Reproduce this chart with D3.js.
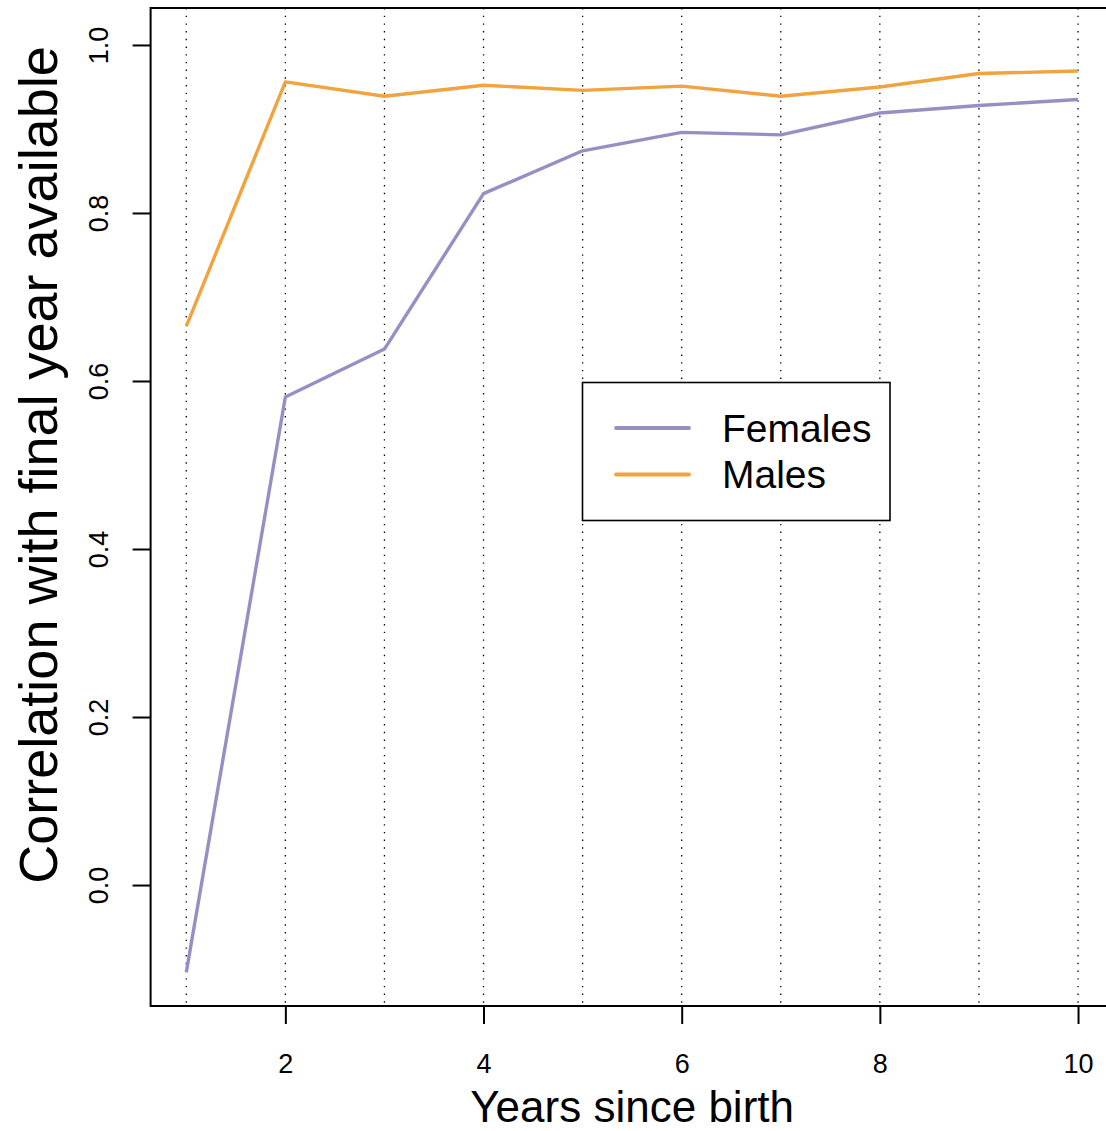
<!DOCTYPE html>
<html>
<head>
<meta charset="utf-8">
<script src="https://cdn.jsdelivr.net/npm/d3@7"></script>
<style>
  html, body { margin: 0; padding: 0; background: #fff; }
  svg { display: block; font-family: "Liberation Sans", Arial, Helvetica, sans-serif; }
</style>
</head>
<body>
<svg id="chart" width="1106" height="1131"></svg>
<script>
// ---- data ----
const years = [1, 2, 3, 4, 5, 6, 7, 8, 9, 10];
const females = [-0.104, 0.581, 0.638, 0.823, 0.874, 0.896, 0.893, 0.919, 0.928, 0.935];
const males = [0.665, 0.956, 0.939, 0.952, 0.946, 0.951, 0.939, 0.950, 0.966, 0.969];
const seriesNames = ["Females", "Males"];
const seriesColors = ["#998ec3", "#f1a340"];
const xTickValues = [2, 4, 6, 8, 10];
const yTickValues = [0.0, 0.2, 0.4, 0.6, 0.8, 1.0];
const xTitle = "Years since birth";
const yTitle = "Correlation with final year available";

// ---- layout ----
const W = 1106, H = 1131;
const plot = { left: 150.6, right: 1113.7, top: 8, bottom: 1006 };

const svg = d3.select("#chart");

// R-style 4% padding on the axes
const xLim = [1, 10], yLim = [-0.1, 1.0];
const xPad = (xLim[1] - xLim[0]) * 0.04, yPad = (yLim[1] - yLim[0]) * 0.04;
const x = d3.scaleLinear().domain([xLim[0] - xPad, xLim[1] + xPad]).range([plot.left, plot.right]);
const y = d3.scaleLinear().domain([yLim[0] - yPad, yLim[1] + yPad]).range([plot.bottom, plot.top]);

// dotted vertical grid lines at each year
svg.append("g").selectAll("line").data(years).join("line")
  .attr("x1", d => x(d)).attr("x2", d => x(d))
  .attr("y1", plot.top).attr("y2", plot.bottom)
  .attr("stroke", "#000").attr("stroke-width", 1.3)
  .attr("stroke-dasharray", "1.4,6.3");

// series lines
const line = d3.line().x((d, i) => x(years[i])).y(d => y(d));
[females, males].forEach((vals, k) => {
  svg.append("path").datum(vals)
    .attr("d", line)
    .attr("fill", "none")
    .attr("stroke", seriesColors[k])
    .attr("stroke-width", 3.4)
    .attr("stroke-linejoin", "round")
    .attr("stroke-linecap", "butt");
});

// plot box
svg.append("rect")
  .attr("x", plot.left).attr("y", plot.top)
  .attr("width", plot.right - plot.left).attr("height", plot.bottom - plot.top)
  .attr("fill", "none").attr("stroke", "#000").attr("stroke-width", 2);

// x axis
const xAxis = d3.axisBottom(x).tickValues(xTickValues).tickSize(18).tickPadding(0).tickFormat(d3.format("d"));
const gx = svg.append("g").attr("transform", `translate(0,${plot.bottom})`).call(xAxis);
gx.select(".domain").remove();
gx.selectAll(".tick line").attr("stroke", "#000").attr("stroke-width", 2);
gx.selectAll(".tick text")
  .attr("y", 67).attr("dy", null)
  .attr("font-size", 27).attr("font-family", "Liberation Sans, Arial, sans-serif")
  .attr("fill", "#000");

// y axis
const yAxis = d3.axisLeft(y).tickValues(yTickValues).tickSize(18).tickFormat(d3.format(".1f"));
const gy = svg.append("g").attr("transform", `translate(${plot.left},0)`).call(yAxis);
gy.select(".domain").remove();
gy.selectAll(".tick line").attr("stroke", "#000").attr("stroke-width", 2);
gy.selectAll(".tick text")
  .attr("x", null).attr("dy", null)
  .attr("transform", "translate(-43,0) rotate(-90)")
  .attr("text-anchor", "middle")
  .attr("font-size", 27).attr("font-family", "Liberation Sans, Arial, sans-serif")
  .attr("fill", "#000");

// axis titles
svg.append("text")
  .attr("x", (plot.left + plot.right) / 2).attr("y", 1122)
  .attr("text-anchor", "middle").attr("font-size", 44).attr("fill", "#000")
  .text(xTitle);

svg.append("text")
  .attr("transform", `translate(57,${(plot.top + plot.bottom) / 2 - 42}) rotate(-90)`)
  .attr("text-anchor", "middle").attr("font-size", 54).attr("fill", "#000")
  .text(yTitle);

// legend
const lg = svg.append("g");
lg.append("rect")
  .attr("x", 582.5).attr("y", 382.5).attr("width", 307.5).attr("height", 138)
  .attr("fill", "#fff").attr("stroke", "#000").attr("stroke-width", 1.6);
const legendRows = [428, 474.5];
seriesNames.forEach((name, k) => {
  lg.append("line")
    .attr("x1", 616).attr("x2", 689)
    .attr("y1", legendRows[k]).attr("y2", legendRows[k])
    .attr("stroke", seriesColors[k]).attr("stroke-width", 3.8).attr("stroke-linecap", "round");
  lg.append("text")
    .attr("x", 722).attr("y", legendRows[k] + 13.5)
    .attr("font-size", 39).attr("fill", "#000")
    .text(name);
});
</script>
</body>
</html>
